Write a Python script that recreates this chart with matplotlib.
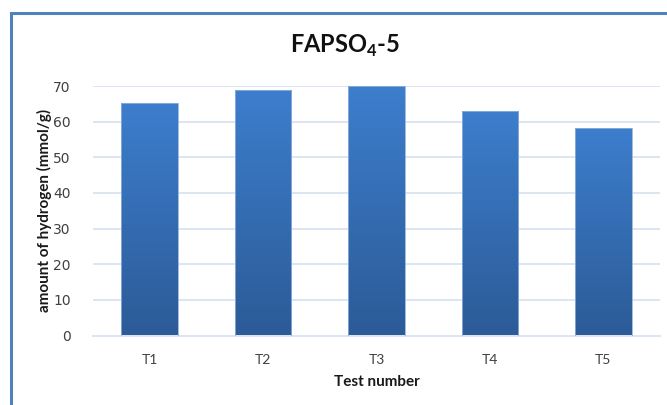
import matplotlib as mpl
import matplotlib.pyplot as plt
import numpy as np
from matplotlib.patches import Rectangle

mpl.rcParams['mathtext.fontset'] = 'custom'
mpl.rcParams['mathtext.rm'] = 'Lato'
mpl.rcParams['mathtext.bf'] = 'Lato:bold'

tests = ['T1', 'T2', 'T3', 'T4', 'T5']
hydrogen = [65.2, 68.8, 70.0, 62.9, 58.2]
yticks = [0, 10, 20, 30, 40, 50, 60, 70]

W, H = 667, 405
fig = plt.figure(figsize=(W / 100, H / 100), dpi=100)
ax = fig.add_axes([93 / W, 1 - 335.5 / H, (660 - 93) / W, (335.5 - 86) / H])

x = np.arange(len(tests))
bars = ax.bar(x, hydrogen, width=0.5, color='none', zorder=3)

# vertical gradient inside each bar
grad = np.linspace(1, 0, 256).reshape(-1, 1)
cmap = mpl.colors.LinearSegmentedColormap.from_list('g', ['#2c5b97', '#3d7ecd'])
for b in bars:
    x0, w, h = b.get_x(), b.get_width(), b.get_height()
    im = ax.imshow(grad, extent=[x0, x0 + w, 0, h], aspect='auto', cmap=cmap,
                   origin='upper', zorder=3)
    im.set_clip_path(b)
    ax.add_patch(Rectangle((x0, 0), w, h, fill=False, ec='#8fb1dc', lw=0.6, zorder=4))

ax.set_xlim(-0.5, len(tests) - 0.5)
ax.set_ylim(0, 70)
ax.set_yticks(yticks)
ax.set_xticks(x)
ax.set_xticklabels(tests, fontsize=10, color='#404040', family='Lato')
ax.tick_params(axis='y', length=0, pad=16, labelsize=10, labelcolor='#404040')
ax.tick_params(axis='x', length=0, pad=13)
ax.grid(axis='y', color='#dce6f2', lw=1.4, zorder=0)
ax.set_axisbelow(True)
for s in ['top', 'right', 'left']:
    ax.spines[s].set_visible(False)
ax.spines['bottom'].set_color('#dce6f2')
ax.spines['bottom'].set_linewidth(1.4)

ax.set_xlabel('Test number', fontsize=11, fontweight='bold', family='Lato',
              color='#1a1a1a', labelpad=7)
ax.set_ylabel('amount of hydrogen (mmol/g)', fontsize=11, fontweight='bold',
              family='Lato', color='#1a1a1a', labelpad=1)

fig.text(345 / W, 1 - 46 / H, r'FAPSO$_\mathbf{4}$-5', ha='center', va='center',
         fontsize=17, fontweight='bold', family='Lato', color='#111111')

# chart frame
fig.patches.append(Rectangle((11 / W, -0.2), 1.5, 1.2 - 13 / H, transform=fig.transFigure,
                             fill=False, ec='#4f81bd', lw=2.2))

fig.savefig('out.png', dpi=100)
